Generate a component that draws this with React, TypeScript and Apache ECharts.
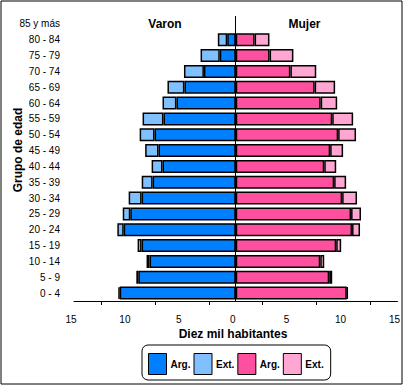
import React, { useEffect, useRef } from "react";
import * as echarts from "echarts";

const categories = ["0 - 4", "5 - 9", "10 - 14", "15 - 19", "20 - 24", "25 - 29", "30 - 34", "35 - 39", "40 - 44", "45 - 49", "50 - 54", "55 - 59", "60 - 64", "65 - 69", "70 - 74", "75 - 79", "80 - 84", "85 y más"];
const maleArg = [10.76, 9.04, 7.99, 8.73, 10.39, 9.78, 8.73, 7.71, 6.79, 7.16, 7.53, 6.7, 5.5, 4.76, 2.95, 1.48, 0.79, 0];
const maleExt = [0.13, 0.18, 0.28, 0.37, 0.59, 0.7, 1.2, 1.01, 1.01, 1.24, 1.38, 1.94, 1.29, 1.57, 1.85, 1.78, 0.87, 0];
const femaleArg = [10.3, 8.67, 7.84, 9.32, 10.79, 10.7, 9.87, 9.13, 8.21, 8.76, 9.5, 8.95, 7.88, 7.32, 5.07, 3.14, 1.75, 0];
const femaleExt = [0.1, 0.28, 0.37, 0.46, 0.74, 0.92, 1.38, 1.11, 1.11, 1.2, 1.66, 1.94, 1.53, 1.9, 2.4, 2.21, 1.38, 0];
const tickLabels = [-15, -10, -5, 0, 5, 10, 15];
const tickMarks = [-12.5, -7.5, -2.5, 2.5, 7.5, 12.5];

const FONT = "'Liberation Sans', Arial, sans-serif";
const C_MA = "#0080ff";
const C_ME = "#80c0ff";
const C_FA = "#ff50a0";
const C_FE = "#ffa6d2";

export default function App() {
  const ref = useRef<HTMLDivElement>(null);
  useEffect(() => {
    if (!ref.current) return;
    const chart = echarts.init(ref.current, null, { renderer: "svg" });
    const neg = (a: number[]) => a.map((v) => (v === 0 ? null : -v));
    const pos = (a: number[]) => a.map((v) => (v === 0 ? null : v));
    const barBase = {
      type: "bar",
      barWidth: 13,
      barGap: "-100%",
      itemStyle: { borderColor: "#000", borderWidth: 1.5 },
      silent: true,
    };
    chart.setOption({
      animation: false,
      textStyle: { fontFamily: FONT },
      grid: { left: 74, right: 5, top: 16, bottom: 85, containLabel: false },
      xAxis: {
        type: "value",
        min: -15,
        max: 15,
        interval: 5,
        axisLine: { show: true, lineStyle: { color: "#000", width: 1 } },
        axisTick: { show: true, customValues: tickMarks, length: 4, lineStyle: { color: "#000" } },
        axisLabel: {
          customValues: tickLabels,
          color: "#000",
          fontSize: 10,
          fontFamily: FONT,
          margin: 13,
          padding: [0, 6, 0, 0],
          formatter: (v: number) => String(Math.abs(v)),
        },
        splitLine: { show: false },
      },
      yAxis: {
        type: "category",
        data: categories,
        axisLine: { show: false },
        axisTick: { show: false },
        axisLabel: { color: "#000", fontSize: 10, fontFamily: FONT, margin: 14 },
      },
      legend: {
        left: 142,
        top: 345,
        padding: [8, 7, 5, 6],
        itemGap: 3,
        itemWidth: 18,
        itemHeight: 21,
        icon: "rect",
        borderColor: "#000",
        borderWidth: 1,
        borderRadius: 6,
        selectedMode: false,
        data: ["Arg. V", "Ext. V", "Arg. M", "Ext. M"],
        formatter: (n: string) => n.split(" ")[0],
        textStyle: { color: "#000", fontSize: 10, fontWeight: "bold", fontFamily: FONT, padding: [0, 0, 0, -1] },
        itemStyle: { borderColor: "#000", borderWidth: 1 },
      },
      series: [
        {
          ...barBase,
          name: "Arg. V",
          stack: "m",
          data: neg(maleArg),
          itemStyle: { ...barBase.itemStyle, color: C_MA },
          markLine: {
            silent: true,
            symbol: "none",
            label: { show: false },
            lineStyle: { color: "#000", width: 1, type: "solid" },
            data: [{ xAxis: 0 }],
          },
        },
        { ...barBase, name: "Ext. V", stack: "m", data: neg(maleExt), itemStyle: { ...barBase.itemStyle, color: C_ME } },
        { ...barBase, name: "Arg. M", stack: "f", data: pos(femaleArg), itemStyle: { ...barBase.itemStyle, color: C_FA } },
        { ...barBase, name: "Ext. M", stack: "f", data: pos(femaleExt), itemStyle: { ...barBase.itemStyle, color: C_FE } },
      ],
      graphic: [
        {
          type: "rect",
          silent: true,
          shape: { x: 1, y: 1, width: 401, height: 383 },
          style: { fill: "none", stroke: "#000", lineWidth: 1 },
        },
        {
          type: "text",
          x: 165,
          y: 24,
          style: { text: "Varon", font: `bold 12px ${FONT}`, fill: "#000", align: "center", verticalAlign: "middle" },
        },
        {
          type: "text",
          x: 304.5,
          y: 24,
          style: { text: "Mujer", font: `bold 12px ${FONT}`, fill: "#000", align: "center", verticalAlign: "middle" },
        },
        {
          type: "text",
          x: 233,
          y: 334,
          style: { text: "Diez mil habitantes", font: `bold 12px ${FONT}`, fill: "#000", align: "center", verticalAlign: "middle" },
        },
        {
          type: "text",
          x: 18,
          y: 150,
          rotation: Math.PI / 2,
          style: { text: "Grupo de edad", font: `bold 12px ${FONT}`, fill: "#000", align: "center", verticalAlign: "middle" },
        },
      ],
    });
    return () => chart.dispose();
  }, []);
  return (
    <div
      ref={ref}
      style={{ position: "absolute", left: 0, top: 0, width: 403, height: 386, background: "#fff" }}
    />
  );
}
